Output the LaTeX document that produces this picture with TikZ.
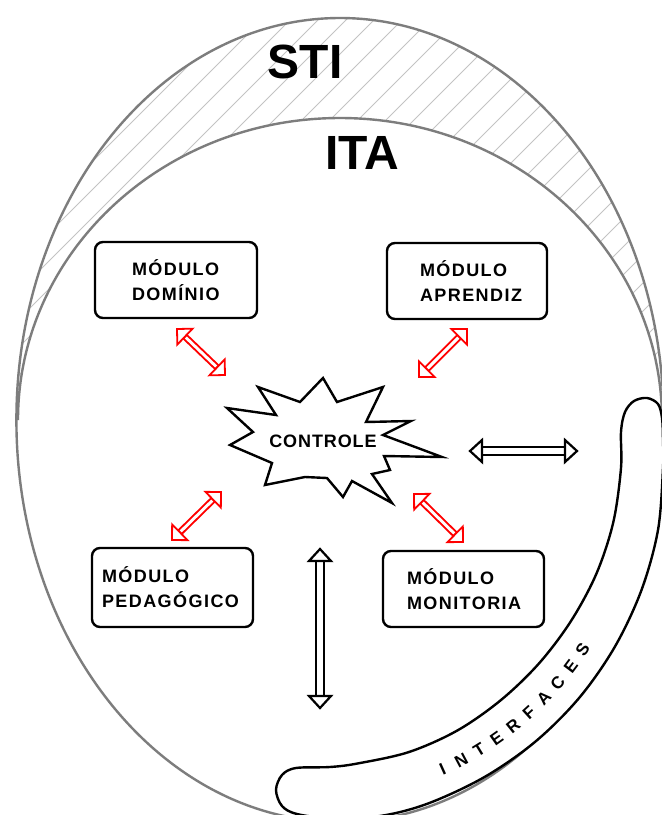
\documentclass[tikz,border=0pt]{standalone}
\usepackage{fontspec}
\setmainfont{Liberation Sans}
\newfontfamily\modfont[LetterSpace=8]{Liberation Sans}
\newfontfamily\ctlfont[LetterSpace=5]{Liberation Sans}
\usetikzlibrary{calc}

\definecolor{shellgray}{RGB}{125,125,125}
\definecolor{hatchgray}{RGB}{195,195,195}

% double-headed hollow arrow: style, end A, end B, half shaft, half head, head length
\newcommand\bidir[6]{%
  \coordinate (hA) at ($(#2)!#6pt!(#3)$);
  \coordinate (hB) at ($(#3)!#6pt!(#2)$);
  \draw[#1] ($(hA)!#4pt!90:(#3)$) -- ($(hB)!#4pt!-90:(#2)$)
            -- ($(hB)!#4pt!90:(#2)$) -- ($(hA)!#4pt!-90:(#3)$) -- cycle;
  \draw[#1] (#2) -- ($(hA)!#5pt!90:(#3)$) -- ($(hA)!#5pt!-90:(#3)$) -- cycle;
  \draw[#1] (#3) -- ($(hB)!#5pt!90:(#2)$) -- ($(hB)!#5pt!-90:(#2)$) -- cycle;
}

\begin{document}
\begin{tikzpicture}[x=1pt,y=-1pt,
  shell/.style={draw=shellgray, line width=2.4pt},
  hatchline/.style={draw=hatchgray, line width=0.8pt},
  title/.style={font=\bfseries\fontsize{48}{50}\selectfont, inner sep=0pt},
  module/.style={draw, line width=2.4pt, rounded corners=8pt, fill=white,
    align=left, inner ysep=0pt,
    font=\modfont\bfseries\fontsize{18}{25}\selectfont},
  burst/.style={draw, line width=2.4pt, fill=white, line join=miter},
  ctltext/.style={font=\ctlfont\bfseries\fontsize{18}{22}\selectfont, inner sep=0pt},
  iface/.style={draw, line width=2.4pt, fill=white},
  ifacetext/.style={font=\bfseries\fontsize{17}{19}\selectfont, inner sep=0pt},
  redarrow/.style={draw=red, line width=1.8pt, fill=white},
  blackarrow/.style={draw=black, line width=2.2pt, fill=white},
]
\fill[white] (0,0) rectangle (662,815);
\useasboundingbox (0,0) rectangle (662,815);
\clip (0,0) rectangle (662,815);

% hatched crescent between STI and ITA
\begin{scope}
  \clip (16.4,420) arc[start angle=180, end angle=360, x radius=323.6, y radius=402]
        -- (662,420) arc[start angle=360, end angle=180, x radius=322, y radius=302] -- cycle;
  \foreach \c in {2,30,...,1500} \draw[hatchline] (\c,0) -- (\c-900,900);
\end{scope}

% STI and ITA outlines
\draw[shell] (340,420) ellipse [x radius=323.6, y radius=402];
\draw[shell] (18,420) arc[start angle=180, end angle=360, x radius=322, y radius=302];

\node[title] (sti) at (305,62) {STI};
\node[title] (ita) at (362,153) {ITA};

% modules
\node[module, inner xsep=37pt, text width=88pt, minimum height=76pt]
  (dom) at (176,280) {MÓDULO\\DOMÍNIO};
\node[module, inner xsep=33pt, text width=94pt, minimum height=76pt]
  (apr) at (467,281) {MÓDULO\\APRENDIZ};
\node[module, inner xsep=10pt, text width=141pt, minimum height=79pt]
  (ped) at (172.5,587.5) {MÓDULO\\PEDAGÓGICO};
\node[module, inner xsep=24pt, text width=113pt, minimum height=76pt]
  (mon) at (463.5,589) {MÓDULO\\MONITORIA};

% control burst
\draw[burst] (323,378) -- (337,402) -- (383,387) -- (366,422) -- (411,421)
  -- (383,435) -- (442,457) -- (384,456) -- (390,470) -- (372,474)
  -- (392,503) -- (352,481) -- (343,497) -- (327,478) -- (305,477)
  -- (265,485) -- (272,463) -- (230,445) -- (253,432) -- (227,408)
  -- (276,415) -- (258,387) -- (300,402) -- cycle;
\node[ctltext] (ctl) at (323,441) {CONTROLE};

% interfaces band
\coordinate (ifc) at (306,468);
\draw[iface] plot[smooth cycle, tension=0.55] coordinates {
  (634,401) (647,398) (658,404) (662,418) (663,440) (663,468) (658,530)
  (641.5,590) (615,646.5) (579.5,697.5) (535.5,741.5) (484.5,777)
  (428,803.5) (380,816) (330,818) (297,814) (282,806) (276,790)
  (282,775) (296,768) (330,767) (358,763.4) (409,752) (457.5,730.4)
  (501,700) (539,663.4) (571,621) (596.4,573.7) (613.3,522.2)
  (621,468) (621,432) (625,412)};
\foreach \ch [count=\i from 0] in {I,N,T,E,R,F,A,C,E,S} {
  \pgfmathsetmacro\ang{65.6-\i*3.589}
  \node[ifacetext, rotate=90-\ang] (if\i) at ($(ifc)+(\ang:331)$) {\ch};
}

% arrow ends
\coordinate (domA) at (177,329);  \coordinate (domB) at (225,375);
\coordinate (aprA) at (467,329);  \coordinate (aprB) at (419,377);
\coordinate (pedA) at (221,492);  \coordinate (pedB) at (172,540);
\coordinate (monA) at (414,494);  \coordinate (monB) at (463,542);
\coordinate (horA) at (470,451);  \coordinate (horB) at (577,451);
\coordinate (verA) at (320,549);  \coordinate (verB) at (320,708);

\bidir{redarrow}{domA}{domB}{2.5}{11}{11}
\bidir{redarrow}{aprA}{aprB}{2.5}{11}{11}
\bidir{redarrow}{pedA}{pedB}{2.5}{11}{11}
\bidir{redarrow}{monA}{monB}{2.5}{11}{11}
\bidir{blackarrow}{horA}{horB}{4}{11}{12}
\bidir{blackarrow}{verA}{verB}{4}{11}{12}
\end{tikzpicture}
\end{document}
